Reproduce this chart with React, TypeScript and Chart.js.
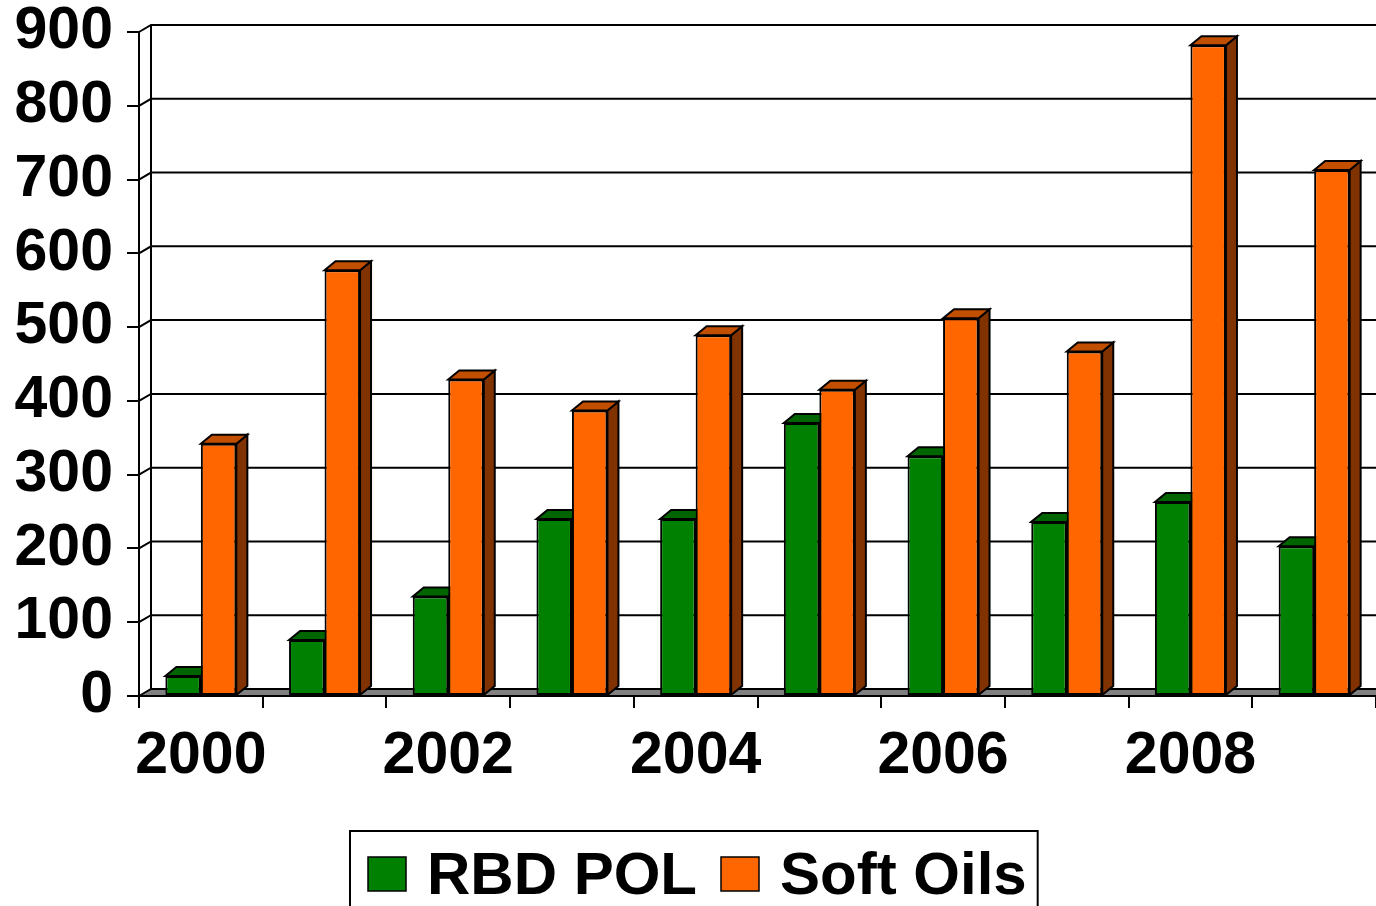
import { useEffect, useRef } from "react";
import { Chart, registerables } from "chart.js";

Chart.register(...registerables);

// ---- data ----
const categories = ["2000", "2001", "2002", "2003", "2004", "2005", "2006", "2007", "2008", "2009"];
const rbdPol = [27, 76, 135, 240, 240, 370, 325, 236, 263, 203];
const softOils = [342, 577, 429, 387, 489, 415, 512, 467, 882, 713];
const seriesNames = ["RBD POL", "Soft Oils"];
const yMin = 0;
const yMax = 900;
const yStep = 100;

// ---- style ----
const FONT = '"Liberation Sans", Arial, Helvetica, sans-serif';
const SERIES_COLORS = [
  { front: "#008000", top: "#006400", side: "#004a00" },
  { front: "#FF6600", top: "#C24E00", side: "#803300" },
];
const WALL_DX = 12;
const WALL_DY = 7;
const BAR_DX = 11;
const BAR_DY = 9;

const threeDPlugin = {
  id: "threeD",
  beforeDatasetsDraw(chart: any) {
    const { ctx, chartArea, scales } = chart;
    const ys = scales.y;
    const left = chartArea.left;
    const right = chartArea.right;
    const bottom = chartArea.bottom;
    ctx.save();
    ctx.lineWidth = 2;
    ctx.strokeStyle = "#000";
    ctx.lineJoin = "miter";

    // floor
    ctx.beginPath();
    ctx.moveTo(left, bottom);
    ctx.lineTo(left + WALL_DX, bottom - WALL_DY);
    ctx.lineTo(right + WALL_DX, bottom - WALL_DY);
    ctx.lineTo(right + WALL_DX, bottom);
    ctx.closePath();
    ctx.fillStyle = "#808080";
    ctx.fill();

    // back wall gridlines + diagonals
    ctx.beginPath();
    ys.ticks.forEach((t: any) => {
      const yf = ys.getPixelForValue(t.value);
      const yb = yf - WALL_DY;
      ctx.moveTo(left, yf);
      ctx.lineTo(left + WALL_DX, yb);
      ctx.lineTo(right + WALL_DX, yb);
    });
    // back wall left edge
    ctx.moveTo(left + WALL_DX, ys.getPixelForValue(yMax) - WALL_DY);
    ctx.lineTo(left + WALL_DX, bottom - WALL_DY);
    // front floor edge
    ctx.moveTo(left, bottom);
    ctx.lineTo(right + WALL_DX, bottom);
    ctx.stroke();

    // 3D top and side faces of bars
    chart.data.datasets.forEach((_ds: any, di: number) => {
      const meta = chart.getDatasetMeta(di);
      const col = SERIES_COLORS[di];
      meta.data.forEach((el: any) => {
        const { x, y, base, width } = el.getProps(["x", "y", "base", "width"], true);
        const l = x - width / 2;
        const r = x + width / 2;
        // side face
        ctx.beginPath();
        ctx.moveTo(r, y);
        ctx.lineTo(r + BAR_DX, y - BAR_DY);
        ctx.lineTo(r + BAR_DX, base - BAR_DY);
        ctx.lineTo(r, base);
        ctx.closePath();
        ctx.fillStyle = col.side;
        ctx.fill();
        ctx.stroke();
        // top face
        ctx.beginPath();
        ctx.moveTo(l, y);
        ctx.lineTo(l + BAR_DX, y - BAR_DY);
        ctx.lineTo(r + BAR_DX, y - BAR_DY);
        ctx.lineTo(r, y);
        ctx.closePath();
        ctx.fillStyle = col.top;
        ctx.fill();
        ctx.stroke();
      });
    });
    ctx.restore();
  },
  afterDraw(chart: any) {
    // legend box
    const { ctx } = chart;
    ctx.save();
    const fontSize = 60;
    ctx.font = `bold ${fontSize}px ${FONT}`;
    const boxLeft = 350;
    const boxTop = 831;
    const swatchW = 38;
    const swatchH = 34;
    const swatchTop = 857;
    const baseline = 894;
    let x = 368;
    const items = chart.data.datasets.map((ds: any, i: number) => ({
      label: ds.label,
      color: SERIES_COLORS[i].front,
    }));
    ctx.textBaseline = "alphabetic";
    ctx.textAlign = "left";
    items.forEach((it: any, i: number) => {
      ctx.fillStyle = it.color;
      ctx.fillRect(x, swatchTop, swatchW, swatchH);
      ctx.lineWidth = 1.5;
      ctx.strokeStyle = "#000";
      ctx.strokeRect(x, swatchTop, swatchW, swatchH);
      const tx = x + swatchW + 21;
      ctx.fillStyle = "#000";
      ctx.fillText(it.label, tx, baseline);
      const w = ctx.measureText(it.label).width;
      x = tx + w + (i < items.length - 1 ? 24 : 0);
    });
    const boxRight = x + 11;
    ctx.lineWidth = 2;
    ctx.strokeStyle = "#000";
    ctx.strokeRect(boxLeft, boxTop, boxRight - boxLeft, 906 - boxTop + 10);
    ctx.restore();
  },
};

export default function App() {
  const canvasRef = useRef<HTMLCanvasElement | null>(null);

  useEffect(() => {
    document.body.style.margin = "0";
    const canvas = canvasRef.current;
    if (!canvas) return;
    const axisFont = { family: FONT, size: 59, weight: "bold" as const, lineHeight: 1 };
    const chart = new Chart(canvas, {
      type: "bar",
      data: {
        labels: categories,
        datasets: [
          {
            label: seriesNames[0],
            data: rbdPol,
            backgroundColor: SERIES_COLORS[0].front,
            borderColor: "#000",
            borderWidth: 2,
            borderSkipped: false,
          },
          {
            label: seriesNames[1],
            data: softOils,
            backgroundColor: SERIES_COLORS[1].front,
            borderColor: "#000",
            borderWidth: 2,
            borderSkipped: false,
          },
        ],
      },
      options: {
        animation: false,
        responsive: false,
        maintainAspectRatio: false,
        devicePixelRatio: 1,
        layout: { padding: { top: 32, left: 0, right: 0, bottom: 0 } },
        datasets: { bar: { categoryPercentage: 0.574, barPercentage: 1 } },
        plugins: {
          legend: { display: false },
          tooltip: { enabled: false },
        },
        scales: {
          x: {
            type: "category",
            offset: true,
            grid: {
              offset: true,
              drawOnChartArea: false,
              drawTicks: true,
              tickLength: 12,
              color: "#000",
              lineWidth: 2,
            },
            border: { display: true, color: "#000", width: 2 },
            ticks: {
              autoSkip: false,
              maxRotation: 0,
              minRotation: 0,
              padding: 19,
              color: "#000",
              font: axisFont,
              callback: (_v: any, i: number) => (i % 2 === 0 ? categories[i] : ""),
            },
            afterFit: (s: any) => {
              s.height = 210;
              s.paddingLeft = 0;
              s.paddingRight = 0;
            },
          },
          y: {
            min: yMin,
            max: yMax,
            grid: {
              drawOnChartArea: false,
              drawTicks: true,
              tickLength: 12,
              color: "#000",
              lineWidth: 2,
            },
            border: { display: true, color: "#000", width: 2 },
            ticks: {
              stepSize: yStep,
              padding: 14,
              color: "#000",
              font: axisFont,
            },
            afterFit: (s: any) => {
              s.width = 139;
              s.paddingTop = 0;
              s.paddingBottom = 0;
            },
          },
        },
      },
      plugins: [threeDPlugin],
    });
    return () => chart.destroy();
  }, []);

  return (
    <div style={{ width: 1376, height: 906, position: "relative", background: "#fff" }}>
      <canvas ref={canvasRef} width={1376} height={906} style={{ display: "block" }} />
    </div>
  );
}
